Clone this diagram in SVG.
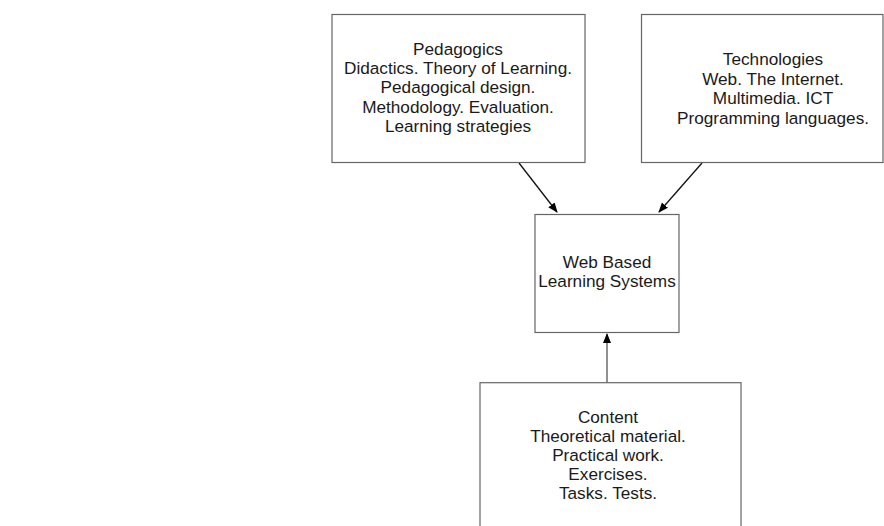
<svg xmlns="http://www.w3.org/2000/svg" width="884" height="526" viewBox="0 0 884 526">
<style>
.box{fill:#fff;stroke:#666;stroke-width:1.2}
.t{font-family:"Liberation Sans",Arial,sans-serif;font-size:17.2px;fill:#1a1a1a;text-anchor:middle}
.c{stroke:#111;stroke-width:1.3;fill:none}
</style>
<defs>
<marker id="ah" markerWidth="10" markerHeight="10" refX="9" refY="5" orient="auto" markerUnits="userSpaceOnUse">
<path d="M0,1 L10,5 L0,9 Z" fill="#000"/>
</marker>
</defs>
<rect width="884" height="526" fill="#fff"/>
<g id="connectors">
<line class="c" x1="519" y1="163" x2="557" y2="212" marker-end="url(#ah)"/>
<line class="c" x1="702" y1="163" x2="659" y2="212" marker-end="url(#ah)"/>
<line class="c" x1="607" y1="383" x2="607" y2="334" marker-end="url(#ah)" style="stroke:#555"/>
</g>
<g id="pedagogics">
<rect class="box" x="332" y="14.5" width="253" height="148"/>
<text class="t" x="458" y="55">Pedagogics</text>
<text class="t" x="458" y="74">Didactics. Theory of Learning.</text>
<text class="t" x="458" y="93.3">Pedagogical design.</text>
<text class="t" x="458" y="112.5">Methodology. Evaluation.</text>
<text class="t" x="458" y="132">Learning strategies</text>
</g>
<g id="technologies">
<rect class="box" x="641.5" y="14.5" width="241.5" height="148"/>
<text class="t" x="773" y="65">Technologies</text>
<text class="t" x="773" y="84.5">Web. The Internet.</text>
<text class="t" x="773" y="104">Multimedia. ICT</text>
<text class="t" x="773" y="123.5">Programming languages.</text>
</g>
<g id="wbls">
<rect class="box" x="535" y="214.5" width="144" height="118"/>
<text class="t" x="607" y="267.7">Web Based</text>
<text class="t" x="607" y="286.7">Learning Systems</text>
</g>
<g id="content">
<rect class="box" x="480" y="382.7" width="261" height="160"/>
<text class="t" x="608" y="423">Content</text>
<text class="t" x="608" y="442">Theoretical material.</text>
<text class="t" x="608" y="461">Practical work.</text>
<text class="t" x="608" y="480">Exercises.</text>
<text class="t" x="608" y="499">Tasks. Tests.</text>
</g>
</svg>
